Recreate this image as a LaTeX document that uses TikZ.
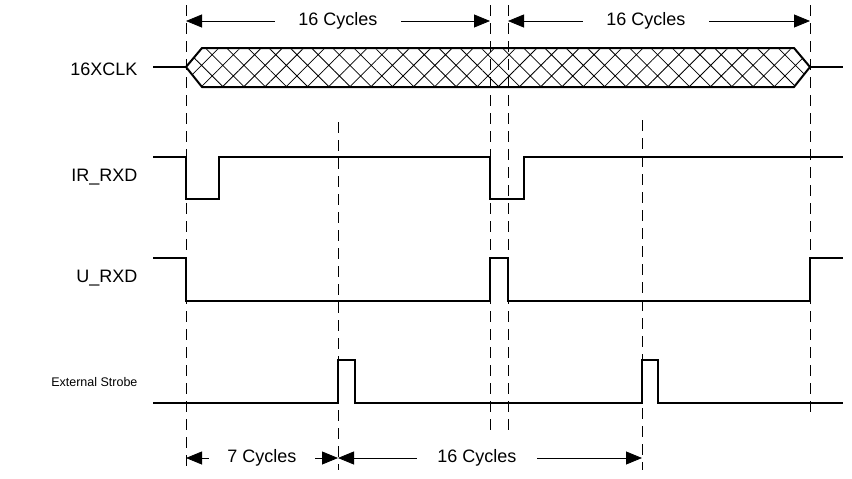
\documentclass[tikz,border=0pt]{standalone}
\usepackage{fontspec}
\setmainfont{Liberation Sans}
\usetikzlibrary{arrows.meta,patterns.meta}

\begin{document}
\begin{tikzpicture}[x=1pt,y=-1pt,
  every node/.style={black,font=\fontsize{18}{20}\selectfont},
  sig/.style={line width=2pt},
  guide/.style={line width=0.8pt,dash pattern=on 11pt off 7pt},
  dim/.style={line width=0.8pt,-{Triangle[length=16pt,width=13pt]}}]
\useasboundingbox (0,0) rectangle (852,479);

% dashed guides
\draw[guide] (186,5) -- (186,470);
\draw[guide] (490,5) -- (490,435);
\draw[guide] (508,5) -- (508,435);
\draw[guide] (810,5) -- (810,415);
\draw[guide] (338,122) -- (338,470);
\draw[guide] (642,120) -- (642,470);

% signal names
\node[anchor=east] (clk) at (141,69) {16XCLK};
\node[anchor=east] (irx) at (141,177) {IR\_RXD};
\node[anchor=east] (urx) at (141,278) {U\_RXD};
\node[anchor=east,font=\fontsize{12.5}{15}\selectfont] (stb) at (141,382) {External Strobe};

% 16XCLK
\draw[sig] (153,67) -- (186,67);
\draw[sig,pattern={Hatch[angle=45,distance=15pt,line width=0.8pt]}]
  (186,67) -- (202,48) -- (794,48) -- (810,67) -- (794,87) -- (202,87) -- cycle;
\draw[sig] (810,67) -- (843,67);

% IR_RXD
\draw[sig] (153,157) -| (186,199) -| (219,157) -| (490,199) -| (524,157) -- (843,157);

% U_RXD
\draw[sig] (153,258) -| (186,301) -| (490,258) -| (508,301) -| (810,258) -- (843,258);

% External Strobe
\draw[sig] (153,403) -| (338,360) -| (355,403) -| (642,360) -| (658,403) -- (843,403);

% cycle counts
\coordinate (t0) at (186,21);
\coordinate (t1) at (490,21);
\coordinate (t2) at (508,21);
\coordinate (t3) at (810,21);
\coordinate (b0) at (186,458);
\coordinate (b1) at (338,458);
\coordinate (b2) at (642,458);

\node (top1) at (338,21) {16 Cycles};
\draw[dim] ([xshift=-20pt]top1.west) -- (t0);
\draw[dim] ([xshift=20pt]top1.east) -- (t1);

\node (top2) at (646,21) {16 Cycles};
\draw[dim] ([xshift=-20pt]top2.west) -- (t2);
\draw[dim] ([xshift=20pt]top2.east) -- (t3);

\node (bot1) at (262,458) {7 Cycles};
\draw[dim] ([xshift=-15pt]bot1.west) -- (b0);
\draw[dim] ([xshift=15pt]bot1.east) -- (b1);

\node (bot2) at (477,458) {16 Cycles};
\draw[dim] ([xshift=-17pt]bot2.west) -- (b1);
\draw[dim] ([xshift=17pt]bot2.east) -- (b2);
\end{tikzpicture}
\end{document}
